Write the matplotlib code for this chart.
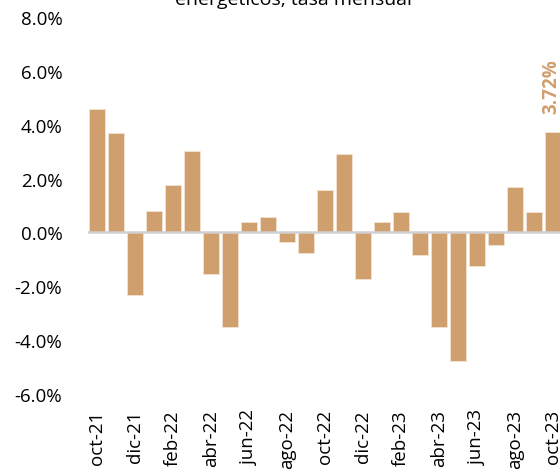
import numpy as np
import matplotlib.pyplot as plt

######################################################################################################
# Data: variacion mensual (%), oct-21 a oct-23
meses = ['oct-21', 'nov-21', 'dic-21', 'ene-22', 'feb-22', 'mar-22', 'abr-22', 'may-22',
         'jun-22', 'jul-22', 'ago-22', 'sep-22', 'oct-22', 'nov-22', 'dic-22', 'ene-23',
         'feb-23', 'mar-23', 'abr-23', 'may-23', 'jun-23', 'jul-23', 'ago-23', 'sep-23',
         'oct-23']
tasa = [4.58, 3.69, -2.32, 0.78, 1.77, 3.03, -1.54, -3.51,
        0.38, 0.57, -0.35, -0.75, 1.59, 2.90, -1.73, 0.39,
        0.75, -0.84, -3.51, -4.77, -1.23, -0.46, 1.69, 0.77,
        3.72]
yticks = [-6, -4, -2, 0, 2, 4, 6, 8]

######################################################################################################
# Plot
plt.rcParams['font.family'] = ['Open Sans', 'DejaVu Sans']
color = '#D09F6E'

fig = plt.figure(figsize=(5.6, 4.77), dpi=100)
ax = fig.add_axes([88/560, 1-395/477, 1-88/560, 377/477])

x = np.arange(len(tasa))
ax.bar(x, tasa, width=0.82, color=color, edgecolor='#f3e3d2', linewidth=0.6, zorder=2)
ax.axhline(0, color='#d0d0d0', linewidth=1.8, zorder=3)

ax.set_xlim(-0.47, 24.37)
ax.set_ylim(-6, 8)
ax.set_yticks(yticks)
ax.set_yticklabels([f'{v:.1f}%' for v in yticks], fontsize=13.5)
ax.set_xticks(x[::2])
ax.set_xticklabels(meses[::2], rotation=90, fontsize=13.5)
ax.tick_params(axis='y', length=0, pad=18.5)
ax.tick_params(axis='x', length=0, pad=11)
for s in ax.spines.values():
    s.set_visible(False)

# etiqueta del ultimo dato
ax.annotate(f'{tasa[-1]:.2f}%', (x[-1], tasa[-1]), xytext=(-1, 14), textcoords='offset points',
            rotation=90, ha='center', va='bottom', color=color, fontsize=13.5, fontweight='bold')

fig.text(293/560, 1.0, 'energéticos, tasa mensual', ha='center', va='center', fontsize=14)

fig.savefig('out.png', dpi=100)
